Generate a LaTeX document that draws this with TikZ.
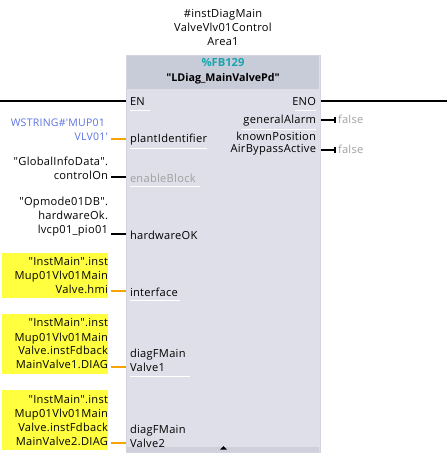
\documentclass[tikz,border=0pt]{standalone}
\usepackage{fontspec}
\newfontfamily\pf[LetterSpace=2.5]{Open Sans}
\newfontfamily\pfb{Open Sans}
\definecolor{bodyc}{HTML}{DEDFE8}
\definecolor{headc}{HTML}{C8CBD8}
\definecolor{stripc}{HTML}{CFD0DC}
\definecolor{edgec}{HTML}{D2D4DE}
\definecolor{tealc}{HTML}{1AA5AE}
\definecolor{bluec}{HTML}{5A72E0}
\definecolor{greyc}{HTML}{A0A0A0}
\definecolor{wirec}{HTML}{F5A300}
\definecolor{hiliy}{HTML}{FFFF40}
\tikzset{
  x=1pt,y=-1pt,
  txt/.style={font=\fontsize{11.1}{14}\selectfont\pf,inner sep=0pt,outer sep=0pt,text=black},
  lefttxt/.style={txt,anchor=east,align=right},
  pin/.style={txt,anchor=west,align=left},
  pinr/.style={txt,anchor=east,align=right},
  bwire/.style={draw=black,line width=1.7pt},
  owire/.style={draw=wirec,line width=1.5pt},
  endbar/.style={draw=black,line width=1.2pt},
  yel/.style={fill=hiliy,inner sep=0pt,outer sep=0pt,anchor=north west},
  uline/.style={draw=white,line width=0.6pt},
}
\begin{document}
\begin{tikzpicture}
\useasboundingbox (0,0) rectangle (447,471);
% block
\node[fill=bodyc,draw=edgec,line width=1pt,minimum width=194pt,minimum height=397pt,inner sep=0pt,anchor=north west] (block) at (126,55) {};
\node[fill=headc,minimum width=192pt,minimum height=33pt,inner sep=0pt,anchor=north west] (head) at (127,56) {};
\node[fill=stripc,minimum width=192pt,minimum height=5pt,inner sep=0pt,anchor=north west] (strip) at (127,447) {};
\fill[black] (220,449.5) -- (223.5,446) -- (227,449.5) -- cycle;
% header texts
\node[txt,align=center] (inst) at (223,27) {\#instDiagMain\\ValveVlv01Control\\Area1};
\node[txt,text=tealc,font=\fontsize{11.2}{14}\selectfont\pfb\bfseries] (fb) at (223,62) {\%FB129};
\node[txt,font=\fontsize{10.7}{14}\selectfont\pfb\bfseries] (fbname) at (223,79) {"LDiag\_MainValvePd"};
% yellow highlights
\node[yel,minimum width=106pt,minimum height=45pt] (y1) at (2,253) {};
\node[yel,minimum width=106pt,minimum height=60pt] (y2) at (2,314) {};
\node[yel,minimum width=106pt,minimum height=60pt] (y3) at (2,390) {};
% input labels
\node[lefttxt,text=bluec,font=\fontsize{10.5}{14}\selectfont\pf] (l1) at (108,130) {WSTRING\#'MUP01\kern3pt\\VLV01'};
\node[lefttxt] (l2) at (108,168) {"GlobalInfoData".\\controlOn};
\node[lefttxt] (l3) at (108,217) {"Opmode01DB".\\hardwareOk.\\lvcp01\_pio01};
\node[lefttxt] (l4) at (108,275.5) {"InstMain".inst\\Mup01Vlv01Main\\Valve.hmi};
\node[lefttxt] (l5) at (108,344) {"InstMain".inst\\Mup01Vlv01Main\\Valve.instFdback\\MainValve1.DIAG};
\node[lefttxt] (l6) at (108,420) {"InstMain".inst\\Mup01Vlv01Main\\Valve.instFdback\\MainValve2.DIAG};
% pin labels
\node[pin] (en) at (130,102) {EN};
\node[pin] (p1) at (130,140) {plantIdentifier};
\node[pin,text=greyc] (p2) at (130,178) {enableBlock};
\node[pin] (p3) at (130,235) {hardwareOK};
\node[pin] (p4) at (130,292) {interface};
\node[pin] (p5) at (130,360) {diagFMain\\Valve1};
\node[pin] (p6) at (130,436) {diagFMain\\Valve2};
\node[pinr] (eno) at (316,102) {ENO};
\node[pinr] (q1) at (316,121) {generalAlarm};
\node[pinr] (q2) at (316,136) {knownPosition};
\node[pinr] (q3) at (316,150) {AirBypassActive};
\node[txt,anchor=west,text=greyc] (f1) at (338,119) {false};
\node[txt,anchor=west,text=greyc] (f2) at (338,149) {false};
% pin underlines
\draw[uline] (130,110) -- (150,110);
\draw[uline] (130,148) -- (207,148);
\draw[uline] (130,186) -- (200,186);
\draw[uline] (130,300) -- (180,300);
\draw[uline] (130,376) -- (190,376);
\draw[uline] (295,110) -- (316,110);
\draw[uline] (241,129) -- (316,129);
% connector ends
\coordinate (wEN) at (0,101);
\coordinate (wENO) at (447,101);
\coordinate (w1) at (111,139);
\coordinate (w2) at (111,177);
\coordinate (w3) at (111,234);
\coordinate (w4) at (111,291);
\coordinate (w5) at (111,367);
\coordinate (w6) at (111,443);
\coordinate (r1) at (335,120);
\coordinate (r3) at (335,150);
% connectors
\draw[bwire] (wEN) -- (wEN -| block.west);
\draw[bwire] (wENO) -- (wENO -| block.east);
\draw[owire] (w1) -- (w1 -| block.west);
\draw[bwire] (w2) -- (w2 -| block.west);
\draw[bwire] (w3) -- (w3 -| block.west);
\draw[owire] (w4) -- (w4 -| block.west);
\draw[owire] (w5) -- (w5 -| block.west);
\draw[owire] (w6) -- (w6 -| block.west);
\draw[bwire] (r1) -- (r1 -| block.east);
\draw[bwire] (r3) -- (r3 -| block.east);
\draw[endbar] ([yshift=-3pt]r1) -- ([yshift=3pt]r1);
\draw[endbar] ([yshift=-3pt]r3) -- ([yshift=3pt]r3);
\end{tikzpicture}
\end{document}
